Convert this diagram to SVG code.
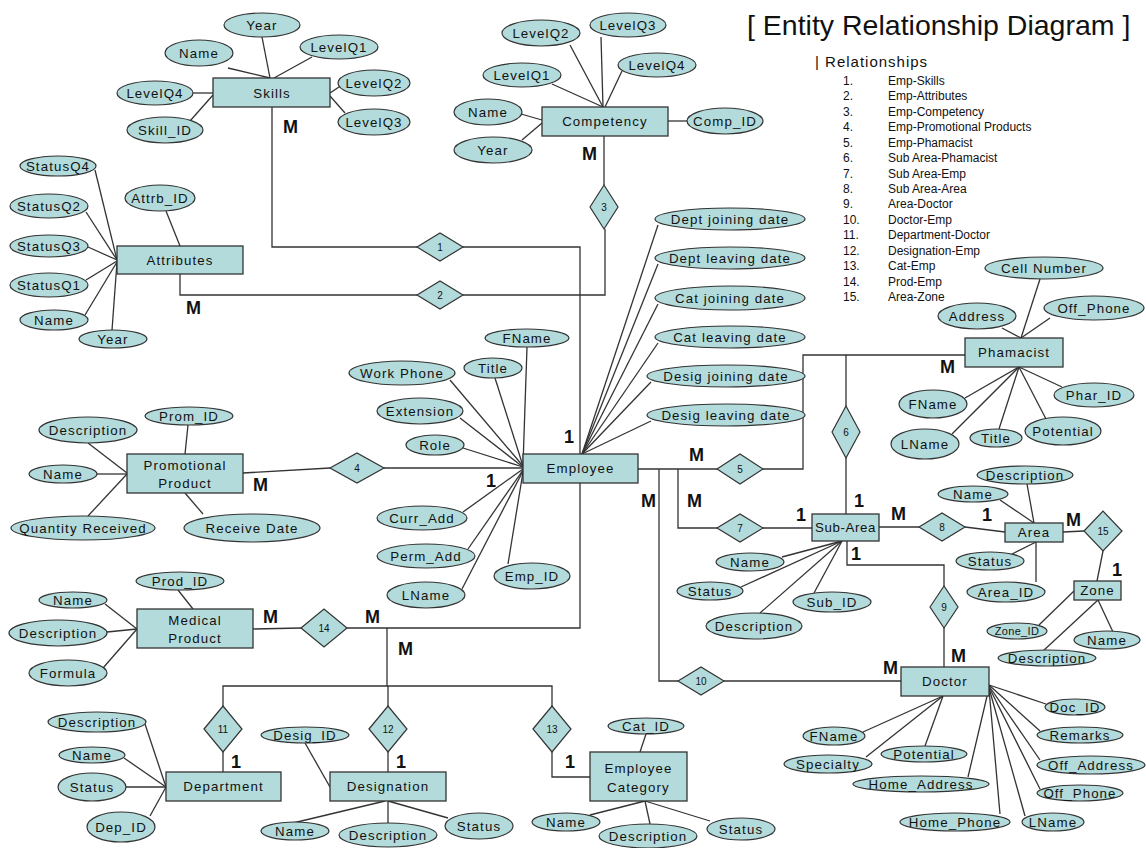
<svg xmlns="http://www.w3.org/2000/svg" width="1146" height="848" viewBox="0 0 1146 848">
<style>
  .ent{fill:#b3dbdb;stroke:#333;stroke-width:1.3}
  .att{fill:#b3dbdb;stroke:#333;stroke-width:1.2}
  .rel{fill:#b3dbdb;stroke:#333;stroke-width:1.2}
  .ln{stroke:#333;stroke-width:1.3;fill:none}
  .t{font-family:"Liberation Sans",Arial,sans-serif;font-size:13.3px;letter-spacing:1.1px;text-anchor:middle;dominant-baseline:central;fill:#111}
  .sm{font-size:11px;letter-spacing:0.3px}
  .n{font-family:"Liberation Sans",Arial,sans-serif;font-size:10px;text-anchor:middle;dominant-baseline:central;fill:#111}
  .c{font-family:"Liberation Sans",Arial,sans-serif;font-size:18px;font-weight:bold;fill:#111}
  .title{font-family:"Liberation Sans",Arial,sans-serif;font-size:28.5px;fill:#111}
  .lh{font-family:"Liberation Sans",Arial,sans-serif;font-size:15px;letter-spacing:1px;fill:#111}
  .li{font-family:"Liberation Sans",Arial,sans-serif;font-size:12px;fill:#111}
</style>
<rect width="1146" height="848" fill="#fff"/>

<!-- relationship connectors -->
<g id="connectors" class="ln">
  <!-- 1 Emp-Skills -->
  <polyline points="272,107 272,247 417,247"/>
  <polyline points="463,247 580,247 580,454"/>
  <!-- 2 Emp-Attributes -->
  <polyline points="180,274 180,295 417,295"/>
  <polyline points="463,295 605,295 605,229"/>
  <!-- 3 Emp-Competency -->
  <line x1="604" y1="136" x2="604" y2="185"/>
  <!-- 4 Emp-Promotional Products -->
  <line x1="243" y1="473" x2="330" y2="468"/>
  <line x1="384" y1="468" x2="523" y2="468"/>
  <!-- 5 Emp-Phamacist -->
  <line x1="638" y1="469" x2="717" y2="469"/>
  <polyline points="763,469 803,469 803,355 965,355"/>
  <!-- 6 Sub Area-Phamacist -->
  <line x1="846" y1="355" x2="846" y2="406"/>
  <line x1="846" y1="458" x2="846" y2="514"/>
  <!-- 7 Sub Area-Emp -->
  <polyline points="678,469 678,528 717,528"/>
  <line x1="763" y1="528" x2="812" y2="528"/>
  <!-- 8 Sub Area-Area -->
  <line x1="879" y1="527" x2="919" y2="527"/>
  <line x1="965" y1="527" x2="1005" y2="532"/>
  <!-- 9 Area-Doctor -->
  <polyline points="847,541 847,565 944,565 944,586"/>
  <line x1="944" y1="628" x2="944" y2="667"/>
  <!-- 10 Doctor-Emp -->
  <polyline points="659,469 659,681 678,681"/>
  <line x1="724" y1="681" x2="901" y2="681"/>
  <!-- 11-14 -->
  <polyline points="580,483 580,628 347,628"/>
  <line x1="253" y1="629" x2="301" y2="628"/>
  <line x1="387" y1="628" x2="387" y2="686"/>
  <polyline points="223,706 223,686 552,686 552,706"/>
  <line x1="388" y1="686" x2="388" y2="706"/>
  <line x1="223" y1="752" x2="223" y2="772"/>
  <line x1="388" y1="752" x2="388" y2="772"/>
  <polyline points="552,752 552,777 590,777"/>
  <!-- 15 Area-Zone -->
  <line x1="1063" y1="532" x2="1084" y2="531"/>
  <line x1="1103" y1="551" x2="1097" y2="581"/>

  <!-- attribute links -->
  <g id="attr-links">
    <!-- Skills -->
    <line x1="228" y1="68" x2="270" y2="78"/>
    <line x1="262" y1="37" x2="270" y2="78"/>
    <line x1="312" y1="57" x2="274" y2="78"/>
    <line x1="339" y1="87" x2="330" y2="93"/>
    <line x1="345" y1="113" x2="330" y2="96"/>
    <line x1="193" y1="93" x2="213" y2="93"/>
    <line x1="190" y1="121" x2="213" y2="95"/>
    <!-- Competency -->
    <line x1="570" y1="45" x2="603" y2="107"/>
    <line x1="601" y1="37" x2="603" y2="107"/>
    <line x1="622" y1="71" x2="605" y2="107"/>
    <line x1="552" y1="84" x2="603" y2="107"/>
    <line x1="521" y1="114" x2="542" y2="120"/>
    <line x1="522" y1="140" x2="542" y2="123"/>
    <line x1="668" y1="121" x2="687" y2="121"/>
    <!-- Attributes -->
    <line x1="95" y1="170" x2="117" y2="260"/>
    <line x1="86" y1="212" x2="117" y2="260"/>
    <line x1="88" y1="247" x2="117" y2="260"/>
    <line x1="86" y1="280" x2="117" y2="261"/>
    <line x1="85" y1="315" x2="117" y2="262"/>
    <line x1="112" y1="330" x2="117" y2="262"/>
    <line x1="166" y1="211" x2="180" y2="246"/>
    <!-- Promotional Product -->
    <line x1="88" y1="443" x2="127" y2="473"/>
    <line x1="97" y1="474" x2="127" y2="474"/>
    <line x1="88" y1="516" x2="127" y2="474"/>
    <line x1="188" y1="425" x2="185" y2="454"/>
    <line x1="185" y1="493" x2="203" y2="514"/>
    <!-- Employee -->
    <line x1="527" y1="347" x2="523" y2="465"/>
    <line x1="495" y1="378" x2="523" y2="466"/>
    <line x1="450" y1="380" x2="523" y2="466"/>
    <line x1="460" y1="418" x2="523" y2="467"/>
    <line x1="463" y1="448" x2="523" y2="467"/>
    <line x1="463" y1="512" x2="523" y2="469"/>
    <line x1="468" y1="549" x2="523" y2="470"/>
    <line x1="462" y1="589" x2="523" y2="471"/>
    <line x1="508" y1="564" x2="523" y2="472"/>
    <line x1="658" y1="225" x2="582" y2="454"/>
    <line x1="658" y1="264" x2="582" y2="454"/>
    <line x1="658" y1="304" x2="582" y2="454"/>
    <line x1="658" y1="343" x2="582" y2="454"/>
    <line x1="651" y1="382" x2="582" y2="454"/>
    <line x1="651" y1="421" x2="582" y2="454"/>
    <!-- Phamacist -->
    <line x1="1040" y1="279" x2="1021" y2="338"/>
    <line x1="1002" y1="328" x2="1021" y2="338"/>
    <line x1="1050" y1="318" x2="1021" y2="338"/>
    <line x1="965" y1="398" x2="1019" y2="367"/>
    <line x1="952" y1="434" x2="1019" y2="367"/>
    <line x1="999" y1="429" x2="1019" y2="367"/>
    <line x1="1046" y1="419" x2="1019" y2="367"/>
    <line x1="1062" y1="387" x2="1019" y2="367"/>
    <!-- Sub-Area -->
    <line x1="782" y1="557" x2="842" y2="541"/>
    <line x1="741" y1="587" x2="842" y2="541"/>
    <line x1="814" y1="593" x2="842" y2="541"/>
    <line x1="760" y1="613" x2="842" y2="541"/>
    <!-- Area -->
    <line x1="1027" y1="484" x2="1034" y2="523"/>
    <line x1="1000" y1="500" x2="1034" y2="523"/>
    <line x1="1012" y1="554" x2="1036" y2="542"/>
    <line x1="1036" y1="542" x2="1036" y2="582"/>
    <!-- Zone -->
    <line x1="1074" y1="591" x2="1039" y2="625"/>
    <line x1="1098" y1="600" x2="1113" y2="632"/>
    <line x1="1098" y1="600" x2="1043" y2="651"/>
    <!-- Doctor -->
    <line x1="863" y1="732" x2="943" y2="696"/>
    <line x1="866" y1="757" x2="943" y2="696"/>
    <line x1="925" y1="746" x2="943" y2="696"/>
    <line x1="1046" y1="704" x2="989" y2="685"/>
    <line x1="1040" y1="731" x2="989" y2="685"/>
    <line x1="1040" y1="760" x2="989" y2="686"/>
    <line x1="1040" y1="789" x2="989" y2="687"/>
    <line x1="1025" y1="816" x2="989" y2="688"/>
    <line x1="1000" y1="814" x2="989" y2="689"/>
    <line x1="968" y1="777" x2="988" y2="692"/>
    <!-- Medical Product -->
    <line x1="178" y1="590" x2="193" y2="609"/>
    <line x1="105" y1="604" x2="137" y2="629"/>
    <line x1="107" y1="632" x2="137" y2="629"/>
    <line x1="103" y1="668" x2="137" y2="629"/>
    <!-- Department -->
    <line x1="145" y1="724" x2="166" y2="787"/>
    <line x1="124" y1="758" x2="166" y2="787"/>
    <line x1="126" y1="787" x2="166" y2="787"/>
    <line x1="150" y1="816" x2="166" y2="787"/>
    <!-- Designation -->
    <line x1="305" y1="743" x2="330" y2="787"/>
    <line x1="385" y1="801" x2="293" y2="823"/>
    <line x1="388" y1="801" x2="388" y2="823"/>
    <line x1="388" y1="801" x2="448" y2="818"/>
    <!-- Employee Category -->
    <line x1="646" y1="734" x2="640" y2="752"/>
    <line x1="645" y1="801" x2="590" y2="815"/>
    <line x1="645" y1="801" x2="650" y2="824"/>
    <line x1="645" y1="801" x2="710" y2="821"/>
  </g>
</g>

<!-- relationship diamonds -->
<g id="rel-1"><polygon class="rel" points="417,247 440,233 463,247 440,261"/><text class="n" x="440" y="247">1</text></g>
<g id="rel-2"><polygon class="rel" points="417,295 440,281 463,295 440,309"/><text class="n" x="440" y="295">2</text></g>
<g id="rel-3"><polygon class="rel" points="590,207 604,185 618,207 604,229"/><text class="n" x="604" y="207">3</text></g>
<g id="rel-4"><polygon class="rel" points="330,468 357,453 384,468 357,483"/><text class="n" x="357" y="468">4</text></g>
<g id="rel-5"><polygon class="rel" points="717,469 740,454 763,469 740,484"/><text class="n" x="740" y="469">5</text></g>
<g id="rel-6"><polygon class="rel" points="832,432 846,406 860,432 846,458"/><text class="n" x="846" y="432">6</text></g>
<g id="rel-7"><polygon class="rel" points="717,528 740,514 763,528 740,542"/><text class="n" x="740" y="528">7</text></g>
<g id="rel-8"><polygon class="rel" points="919,527 942,513 965,527 942,541"/><text class="n" x="942" y="527">8</text></g>
<g id="rel-9"><polygon class="rel" points="930,607 944,586 958,607 944,628"/><text class="n" x="944" y="607">9</text></g>
<g id="rel-10"><polygon class="rel" points="678,681 701,667 724,681 701,695"/><text class="n" x="701" y="681">10</text></g>
<g id="rel-11"><polygon class="rel" points="204,729 223,706 242,729 223,752"/><text class="n" x="223" y="729">11</text></g>
<g id="rel-12"><polygon class="rel" points="369,729 388,706 407,729 388,752"/><text class="n" x="388" y="729">12</text></g>
<g id="rel-13"><polygon class="rel" points="533,729 552,706 571,729 552,752"/><text class="n" x="552" y="729">13</text></g>
<g id="rel-14"><polygon class="rel" points="301,628 324,609 347,628 324,647"/><text class="n" x="324" y="628">14</text></g>
<g id="rel-15"><polygon class="rel" points="1084,531 1103,511 1122,531 1103,551"/><text class="n" x="1103" y="531">15</text></g>

<!-- Skills -->
<g id="skills">
  <rect class="ent" x="213" y="78" width="117" height="29"/><text class="t" x="272" y="93">Skills</text>
  <g id="skills-year"><ellipse class="att" cx="262" cy="25" rx="38" ry="12"/><text class="t" x="262" y="25">Year</text></g>
  <g id="skills-name"><ellipse class="att" cx="199" cy="53" rx="34" ry="13"/><text class="t" x="199" y="53">Name</text></g>
  <g id="skills-q1"><ellipse class="att" cx="339" cy="47" rx="39" ry="12"/><text class="t" x="339" y="47">LevelQ1</text></g>
  <g id="skills-q2"><ellipse class="att" cx="374" cy="83" rx="36" ry="13"/><text class="t" x="374" y="83">LevelQ2</text></g>
  <g id="skills-q3"><ellipse class="att" cx="374" cy="122" rx="36" ry="13"/><text class="t" x="374" y="122">LevelQ3</text></g>
  <g id="skills-q4"><ellipse class="att" cx="155" cy="93" rx="38" ry="12"/><text class="t" x="155" y="93">LevelQ4</text></g>
  <g id="skills-id"><ellipse class="att" cx="165" cy="130" rx="38" ry="13"/><text class="t" x="165" y="130">Skill_ID</text></g>
</g>

<!-- Competency -->
<g id="competency">
  <rect class="ent" x="542" y="107" width="126" height="29"/><text class="t" x="605" y="121.5">Competency</text>
  <g id="comp-q2"><ellipse class="att" cx="541" cy="33" rx="39" ry="13"/><text class="t" x="541" y="33">LevelQ2</text></g>
  <g id="comp-q3"><ellipse class="att" cx="628" cy="25" rx="38" ry="12"/><text class="t" x="628" y="25">LevelQ3</text></g>
  <g id="comp-q4"><ellipse class="att" cx="657" cy="65" rx="39" ry="12"/><text class="t" x="657" y="65">LevelQ4</text></g>
  <g id="comp-q1"><ellipse class="att" cx="522" cy="75" rx="39" ry="12"/><text class="t" x="522" y="75">LevelQ1</text></g>
  <g id="comp-name"><ellipse class="att" cx="488" cy="112" rx="34" ry="13"/><text class="t" x="488" y="112">Name</text></g>
  <g id="comp-year"><ellipse class="att" cx="493" cy="150" rx="39" ry="13"/><text class="t" x="493" y="150">Year</text></g>
  <g id="comp-id"><ellipse class="att" cx="725" cy="121" rx="38" ry="13"/><text class="t" x="725" y="121">Comp_ID</text></g>
</g>

<!-- Attributes -->
<g id="attributes">
  <rect class="ent" x="117" y="246" width="126" height="28"/><text class="t" x="180" y="260">Attributes</text>
  <g id="attr-q4"><ellipse class="att" cx="58" cy="166" rx="38" ry="10"/><text class="t" x="58" y="166">StatusQ4</text></g>
  <g id="attr-q2"><ellipse class="att" cx="49" cy="206" rx="39" ry="12"/><text class="t" x="49" y="206">StatusQ2</text></g>
  <g id="attr-q3"><ellipse class="att" cx="49" cy="246" rx="39" ry="11"/><text class="t" x="49" y="246">StatusQ3</text></g>
  <g id="attr-q1"><ellipse class="att" cx="49" cy="285" rx="39" ry="12"/><text class="t" x="49" y="285">StatusQ1</text></g>
  <g id="attr-name"><ellipse class="att" cx="54" cy="320" rx="34" ry="10"/><text class="t" x="54" y="320">Name</text></g>
  <g id="attr-year"><ellipse class="att" cx="113" cy="339" rx="34" ry="9"/><text class="t" x="113" y="339">Year</text></g>
  <g id="attr-id"><ellipse class="att" cx="160" cy="198" rx="35" ry="13"/><text class="t" x="160" y="198">Attrb_ID</text></g>
</g>

<!-- Promotional Product -->
<g id="promotional-product">
  <rect class="ent" x="127" y="454" width="116" height="39"/>
  <text class="t" x="185" y="465">Promotional</text><text class="t" x="185" y="483">Product</text>
  <g id="prom-id"><ellipse class="att" cx="189" cy="416" rx="44" ry="9"/><text class="t" x="189" y="416">Prom_ID</text></g>
  <g id="prom-desc"><ellipse class="att" cx="88" cy="430" rx="49" ry="13"/><text class="t" x="88" y="430">Description</text></g>
  <g id="prom-name"><ellipse class="att" cx="63" cy="474" rx="34" ry="9"/><text class="t" x="63" y="474">Name</text></g>
  <g id="prom-qty"><ellipse class="att" cx="83" cy="528" rx="72" ry="12"/><text class="t" x="83" y="528">Quantity Received</text></g>
  <g id="prom-date"><ellipse class="att" cx="252" cy="528" rx="68" ry="14"/><text class="t" x="252" y="528">Receive Date</text></g>
</g>

<!-- Employee -->
<g id="employee">
  <rect class="ent" x="523" y="454" width="115" height="29"/><text class="t" x="580.5" y="468.5">Employee</text>
  <g id="emp-fname"><ellipse class="att" cx="527" cy="338" rx="42" ry="9"/><text class="t" x="527" y="338">FName</text></g>
  <g id="emp-title"><ellipse class="att" cx="493" cy="368" rx="29" ry="10"/><text class="t" x="493" y="368">Title</text></g>
  <g id="emp-wphone"><ellipse class="att" cx="402" cy="373" rx="53" ry="12"/><text class="t" x="402" y="373">Work Phone</text></g>
  <g id="emp-ext"><ellipse class="att" cx="420" cy="411" rx="43" ry="13"/><text class="t" x="420" y="411">Extension</text></g>
  <g id="emp-role"><ellipse class="att" cx="435" cy="445" rx="29" ry="10"/><text class="t" x="435" y="445">Role</text></g>
  <g id="emp-curr"><ellipse class="att" cx="422" cy="518" rx="45" ry="12"/><text class="t" x="422" y="518">Curr_Add</text></g>
  <g id="emp-perm"><ellipse class="att" cx="426" cy="556" rx="49" ry="12"/><text class="t" x="426" y="556">Perm_Add</text></g>
  <g id="emp-lname"><ellipse class="att" cx="426" cy="595" rx="39" ry="13"/><text class="t" x="426" y="595">LName</text></g>
  <g id="emp-id"><ellipse class="att" cx="532" cy="576" rx="38" ry="13"/><text class="t" x="532" y="576">Emp_ID</text></g>
  <g id="emp-dj"><ellipse class="att" cx="730" cy="219" rx="75" ry="11"/><text class="t" x="730" y="219">Dept joining date</text></g>
  <g id="emp-dl"><ellipse class="att" cx="730" cy="258" rx="75" ry="11"/><text class="t" x="730" y="258">Dept leaving date</text></g>
  <g id="emp-cj"><ellipse class="att" cx="730" cy="298" rx="75" ry="12"/><text class="t" x="730" y="298">Cat joining date</text></g>
  <g id="emp-cl"><ellipse class="att" cx="730" cy="337" rx="75" ry="11"/><text class="t" x="730" y="337">Cat leaving date</text></g>
  <g id="emp-gj"><ellipse class="att" cx="726" cy="376" rx="79" ry="11"/><text class="t" x="726" y="376">Desig joining date</text></g>
  <g id="emp-gl"><ellipse class="att" cx="726" cy="415" rx="79" ry="11"/><text class="t" x="726" y="415">Desig leaving date</text></g>
</g>

<!-- Phamacist -->
<g id="phamacist">
  <rect class="ent" x="965" y="338" width="98" height="29"/><text class="t" x="1014" y="352.5">Phamacist</text>
  <g id="ph-cell"><ellipse class="att" cx="1044" cy="268" rx="59" ry="11"/><text class="t" x="1044" y="268">Cell Number</text></g>
  <g id="ph-addr"><ellipse class="att" cx="977" cy="316" rx="39" ry="13"/><text class="t" x="977" y="316">Address</text></g>
  <g id="ph-off"><ellipse class="att" cx="1094" cy="308" rx="50" ry="12"/><text class="t" x="1094" y="308">Off_Phone</text></g>
  <g id="ph-fname"><ellipse class="att" cx="933" cy="404" rx="34" ry="14"/><text class="t" x="933" y="404">FName</text></g>
  <g id="ph-lname"><ellipse class="att" cx="925" cy="444" rx="34" ry="15"/><text class="t" x="925" y="444">LName</text></g>
  <g id="ph-title"><ellipse class="att" cx="996" cy="438" rx="26" ry="9"/><text class="t" x="996" y="438">Title</text></g>
  <g id="ph-pot"><ellipse class="att" cx="1063" cy="431" rx="38" ry="14"/><text class="t" x="1063" y="431">Potential</text></g>
  <g id="ph-id"><ellipse class="att" cx="1094" cy="395" rx="40" ry="12"/><text class="t" x="1094" y="395">Phar_ID</text></g>
</g>

<!-- Sub-Area -->
<g id="sub-area">
  <rect class="ent" x="812" y="514" width="67" height="27"/><text class="t" x="845.5" y="527.5" style="letter-spacing:0.6px">Sub-Area</text>
  <g id="sa-name"><ellipse class="att" cx="750" cy="562" rx="34" ry="9"/><text class="t" x="750" y="562">Name</text></g>
  <g id="sa-status"><ellipse class="att" cx="710" cy="591" rx="33" ry="9"/><text class="t" x="710" y="591">Status</text></g>
  <g id="sa-id"><ellipse class="att" cx="832" cy="602" rx="39" ry="10"/><text class="t" x="832" y="602">Sub_ID</text></g>
  <g id="sa-desc"><ellipse class="att" cx="754" cy="626" rx="48" ry="13"/><text class="t" x="754" y="626">Description</text></g>
</g>

<!-- Area -->
<g id="area">
  <rect class="ent" x="1005" y="523" width="58" height="19"/><text class="t" x="1034" y="532.5">Area</text>
  <g id="ar-desc"><ellipse class="att" cx="1025" cy="475" rx="48" ry="9"/><text class="t" x="1025" y="475">Description</text></g>
  <g id="ar-name"><ellipse class="att" cx="973" cy="494" rx="35" ry="8"/><text class="t" x="973" y="494">Name</text></g>
  <g id="ar-status"><ellipse class="att" cx="990" cy="561" rx="34" ry="9"/><text class="t" x="990" y="561">Status</text></g>
  <g id="ar-id"><ellipse class="att" cx="1006" cy="592" rx="39" ry="10"/><text class="t" x="1006" y="592">Area_ID</text></g>
</g>

<!-- Zone -->
<g id="zone">
  <rect class="ent" x="1074" y="581" width="47" height="19"/><text class="t" x="1097.5" y="590.5">Zone</text>
  <g id="zn-id"><ellipse class="att" cx="1017" cy="631" rx="30" ry="8"/><text class="t sm" x="1017" y="631">Zone_ID</text></g>
  <g id="zn-name"><ellipse class="att" cx="1107" cy="640" rx="33" ry="9"/><text class="t" x="1107" y="640">Name</text></g>
  <g id="zn-desc"><ellipse class="att" cx="1047" cy="658" rx="49" ry="8"/><text class="t" x="1047" y="658">Description</text></g>
</g>

<!-- Doctor -->
<g id="doctor">
  <rect class="ent" x="901" y="667" width="88" height="29"/><text class="t" x="945" y="681.5">Doctor</text>
  <g id="dr-id"><ellipse class="att" cx="1075" cy="707" rx="30" ry="8"/><text class="t" x="1075" y="707">Doc_ID</text></g>
  <g id="dr-rem"><ellipse class="att" cx="1080" cy="735" rx="43" ry="8"/><text class="t" x="1080" y="735">Remarks</text></g>
  <g id="dr-oaddr"><ellipse class="att" cx="1091" cy="765" rx="54" ry="9"/><text class="t" x="1091" y="765">Off_Address</text></g>
  <g id="dr-ophone"><ellipse class="att" cx="1080" cy="793" rx="43" ry="8"/><text class="t" x="1080" y="793">Off_Phone</text></g>
  <g id="dr-lname"><ellipse class="att" cx="1053" cy="822" rx="31" ry="9"/><text class="t" x="1053" y="822">LName</text></g>
  <g id="dr-hphone"><ellipse class="att" cx="955" cy="822" rx="55" ry="9"/><text class="t" x="955" y="822">Home_Phone</text></g>
  <g id="dr-haddr"><ellipse class="att" cx="921" cy="784" rx="68" ry="8"/><text class="t" x="921" y="784">Home_Address</text></g>
  <g id="dr-pot"><ellipse class="att" cx="924" cy="754" rx="43" ry="8"/><text class="t" x="924" y="754">Potential</text></g>
  <g id="dr-spec"><ellipse class="att" cx="828" cy="764" rx="44" ry="9"/><text class="t" x="828" y="764">Specialty</text></g>
  <g id="dr-fname"><ellipse class="att" cx="834" cy="736" rx="31" ry="9"/><text class="t" x="834" y="736">FName</text></g>
</g>

<!-- Medical Product -->
<g id="medical-product">
  <rect class="ent" x="137" y="609" width="116" height="39"/>
  <text class="t" x="195" y="620">Medical</text><text class="t" x="195" y="638">Product</text>
  <g id="mp-id"><ellipse class="att" cx="180" cy="581" rx="44" ry="9"/><text class="t" x="180" y="581">Prod_ID</text></g>
  <g id="mp-name"><ellipse class="att" cx="73" cy="600" rx="34" ry="8"/><text class="t" x="73" y="600">Name</text></g>
  <g id="mp-desc"><ellipse class="att" cx="58" cy="633" rx="49" ry="13"/><text class="t" x="58" y="633">Description</text></g>
  <g id="mp-form"><ellipse class="att" cx="68" cy="673" rx="39" ry="13"/><text class="t" x="68" y="673">Formula</text></g>
</g>

<!-- Department -->
<g id="department">
  <rect class="ent" x="166" y="772" width="115" height="29"/><text class="t" x="223.5" y="786.5">Department</text>
  <g id="dp-desc"><ellipse class="att" cx="97" cy="722" rx="49" ry="10"/><text class="t" x="97" y="722">Description</text></g>
  <g id="dp-name"><ellipse class="att" cx="92" cy="755" rx="33" ry="8"/><text class="t" x="92" y="755">Name</text></g>
  <g id="dp-status"><ellipse class="att" cx="92" cy="787" rx="34" ry="14"/><text class="t" x="92" y="787">Status</text></g>
  <g id="dp-id"><ellipse class="att" cx="121" cy="827" rx="34" ry="15"/><text class="t" x="121" y="827">Dep_ID</text></g>
</g>

<!-- Designation -->
<g id="designation">
  <rect class="ent" x="330" y="772" width="116" height="29"/><text class="t" x="388" y="786.5">Designation</text>
  <g id="ds-id"><ellipse class="att" cx="305" cy="735" rx="44" ry="8"/><text class="t" x="305" y="735">Desig_ID</text></g>
  <g id="ds-name"><ellipse class="att" cx="295" cy="831" rx="34" ry="9"/><text class="t" x="295" y="831">Name</text></g>
  <g id="ds-desc"><ellipse class="att" cx="388" cy="835" rx="49" ry="12"/><text class="t" x="388" y="835">Description</text></g>
  <g id="ds-status"><ellipse class="att" cx="479" cy="826" rx="34" ry="13"/><text class="t" x="479" y="826">Status</text></g>
</g>

<!-- Employee Category -->
<g id="employee-category">
  <rect class="ent" x="590" y="752" width="97" height="49"/>
  <text class="t" x="638.5" y="768">Employee</text><text class="t" x="638.5" y="787">Category</text>
  <g id="ec-id"><ellipse class="att" cx="646" cy="726" rx="38" ry="8"/><text class="t" x="646" y="726">Cat_ID</text></g>
  <g id="ec-name"><ellipse class="att" cx="566" cy="822" rx="34" ry="9"/><text class="t" x="566" y="822">Name</text></g>
  <g id="ec-desc"><ellipse class="att" cx="648" cy="836" rx="49" ry="12"/><text class="t" x="648" y="836">Description</text></g>
  <g id="ec-status"><ellipse class="att" cx="741" cy="829" rx="34" ry="11"/><text class="t" x="741" y="829">Status</text></g>
</g>

<!-- cardinalities -->
<g id="cardinality" class="c">
  <text x="283" y="133">M</text>
  <text x="582" y="160">M</text>
  <text x="186" y="314">M</text>
  <text x="564" y="443">1</text>
  <text x="486" y="487">1</text>
  <text x="253" y="491">M</text>
  <text x="940" y="373">M</text>
  <text x="689" y="461">M</text>
  <text x="641" y="507">M</text>
  <text x="687" y="507">M</text>
  <text x="796" y="521">1</text>
  <text x="854" y="507">1</text>
  <text x="891" y="520">M</text>
  <text x="982" y="521">1</text>
  <text x="1066" y="526">M</text>
  <text x="1112" y="576">1</text>
  <text x="851" y="560">1</text>
  <text x="951" y="662">M</text>
  <text x="883" y="674">M</text>
  <text x="263" y="623">M</text>
  <text x="365" y="623">M</text>
  <text x="398" y="655">M</text>
  <text x="231" y="768">1</text>
  <text x="396" y="768">1</text>
  <text x="565" y="768">1</text>
</g>

<!-- title and legend -->
<g id="legend">
  <text class="title" x="747" y="35">[ Entity Relationship Diagram ]</text>
  <text class="lh" x="815" y="67">| Relationships</text>
  <g class="li">
    <text x="843" y="85">1.</text><text x="888" y="85">Emp-Skills</text>
    <text x="843" y="100.4">2.</text><text x="888" y="100.4">Emp-Attributes</text>
    <text x="843" y="115.9">3.</text><text x="888" y="115.9">Emp-Competency</text>
    <text x="843" y="131.3">4.</text><text x="888" y="131.3">Emp-Promotional Products</text>
    <text x="843" y="146.7">5.</text><text x="888" y="146.7">Emp-Phamacist</text>
    <text x="843" y="162.2">6.</text><text x="888" y="162.2">Sub Area-Phamacist</text>
    <text x="843" y="177.6">7.</text><text x="888" y="177.6">Sub Area-Emp</text>
    <text x="843" y="193">8.</text><text x="888" y="193">Sub Area-Area</text>
    <text x="843" y="208.4">9.</text><text x="888" y="208.4">Area-Doctor</text>
    <text x="843" y="223.9">10.</text><text x="888" y="223.9">Doctor-Emp</text>
    <text x="843" y="239.3">11.</text><text x="888" y="239.3">Department-Doctor</text>
    <text x="843" y="254.7">12.</text><text x="888" y="254.7">Designation-Emp</text>
    <text x="843" y="270.2">13.</text><text x="888" y="270.2">Cat-Emp</text>
    <text x="843" y="285.6">14.</text><text x="888" y="285.6">Prod-Emp</text>
    <text x="843" y="301">15.</text><text x="888" y="301">Area-Zone</text>
  </g>
</g>
</svg>
